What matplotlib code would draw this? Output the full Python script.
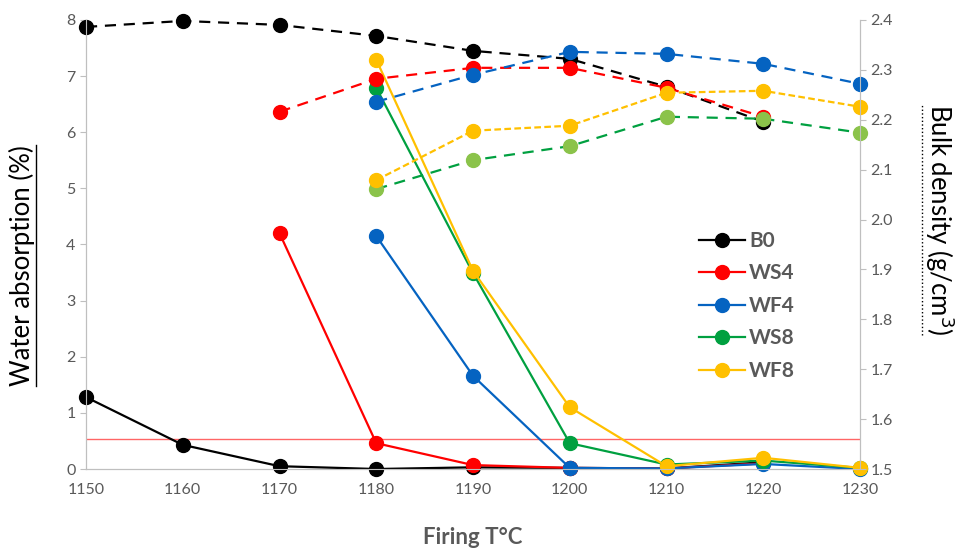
import numpy as np
import matplotlib.pyplot as plt
from matplotlib.lines import Line2D

plt.rcParams['font.family'] = ['Lato', 'DejaVu Sans']

temps = [1150, 1160, 1170, 1180, 1190, 1200, 1210, 1220, 1230]

# water absorption (%) - left axis
wa_B0 = [1.28, 0.43, 0.05, 0.00, 0.03, 0.02, 0.01, 0.12]
wa_WS4 = [4.20, 0.46, 0.07, 0.02, 0.01, 0.10]
wa_WF4 = [4.15, 1.66, 0.02, 0.01, 0.09, 0.00]
wa_WS8 = [6.79, 3.49, 0.46, 0.08, 0.15, 0.02]
wa_WF8 = [7.29, 3.53, 1.10, 0.05, 0.20, 0.02]

# bulk density (g/cm3) - right axis
bd_B0 = [2.386, 2.398, 2.390, 2.368, 2.338, 2.322, 2.266, 2.196]
bd_WS4 = [2.216, 2.282, 2.304, 2.304, 2.264, 2.206]
bd_WF4 = [2.236, 2.290, 2.336, 2.332, 2.312, 2.272]
bd_WS8 = [2.061, 2.119, 2.147, 2.206, 2.202, 2.174]
bd_WF8 = [2.079, 2.178, 2.188, 2.254, 2.258, 2.226]

limit_wa = 0.53

names = ['B0', 'WS4', 'WF4', 'WS8', 'WF8']
colors = ['#000000', '#FF0000', '#0563C1', '#00A040', '#FFC000']
bd_marker_colors = ['#000000', '#FF0000', '#0563C1', '#8BC34A', '#FFC000']
wa_series = [wa_B0, wa_WS4, wa_WF4, wa_WS8, wa_WF8]
bd_series = [bd_B0, bd_WS4, bd_WF4, bd_WS8, bd_WF8]
wa_start = [1150, 1170, 1180, 1180, 1180]
bd_start = [1150, 1170, 1180, 1180, 1180]

grey = '#595959'
fig = plt.figure(figsize=(9.56, 5.49), dpi=100)
ax = fig.add_axes([0.09, 0.1457, 0.8096, 0.818])
ax2 = ax.twinx()

def xs(start, vals):
    i = temps.index(start)
    return temps[i:i + len(vals)]

handles = []
for n, c, vals, st in zip(names, colors, wa_series, wa_start):
    h, = ax.plot(xs(st, vals), vals, '-', color=c, lw=1.6, marker='o',
                 markersize=10, label=n, zorder=3, clip_on=False)
    handles.append(h)

for n, c, mc, vals, st in zip(names, colors, bd_marker_colors, bd_series, bd_start):
    dash = (3, 1.5) if n == 'WF8' else (5, 3.5)
    ax2.plot(xs(st, vals), vals, color=c, lw=1.6, dashes=dash, marker='o',
             markersize=10, markerfacecolor=mc, markeredgecolor=mc, clip_on=False)

ax.axhline(limit_wa, color='#FF6666', lw=1, zorder=1)

ax.set_xlim(1150, 1230)
ax.set_ylim(0, 8)
ax2.set_ylim(1.5, 2.4)
ax.set_xticks(temps)
ax.set_yticks(range(0, 9))
ax2.set_yticks(np.arange(1.5, 2.41, 0.1))
ax2.set_yticklabels([f'{v:.1f}' for v in np.arange(1.5, 2.41, 0.1)])

for a in (ax, ax2):
    for s in a.spines.values():
        s.set_color('#BFBFBF')
    a.spines['top'].set_visible(False)
    a.tick_params(colors='#BFBFBF', labelcolor=grey, labelsize=11.5, length=4)
ax.tick_params(axis='x', length=0, pad=10)

ax.set_xlabel('Firing T°C', fontsize=16, fontweight='bold', color=grey)
ax.xaxis.set_label_coords(0.5, -0.13)
ax.set_ylabel('Water absorption (%)', fontsize=18.5, color='black',
              va='center', rotation_mode='anchor')
ax.yaxis.set_label_coords(-0.083, 0.454)
ax2.set_ylabel('Bulk density (g/cm$^3$)', fontsize=18.5, color='black', rotation=270,
               va='center', rotation_mode='anchor')
ax2.yaxis.set_label_coords(1.103, 0.555)

leg = ax.legend(handles=handles, loc='upper left', bbox_to_anchor=(0.768, 0.572),
                frameon=False, handlelength=2.2, labelspacing=0.6, handletextpad=0.2,
                prop={'size': 15, 'weight': 'bold'})
for t in leg.get_texts():
    t.set_color(grey)

# underline the axis titles
fig.canvas.draw()
r = fig.canvas.get_renderer()
for lab, style in ((ax.yaxis.label, '-'), (ax2.yaxis.label, ':')):
    bb = lab.get_window_extent(r).transformed(fig.transFigure.inverted())
    x = bb.x1 + 0.001 if style == '-' else bb.x0 - 0.001
    fig.add_artist(Line2D([x, x], [bb.y0, bb.y1], transform=fig.transFigure,
                          color='black', lw=1, linestyle=style))

fig.savefig('out.png', dpi=100)
